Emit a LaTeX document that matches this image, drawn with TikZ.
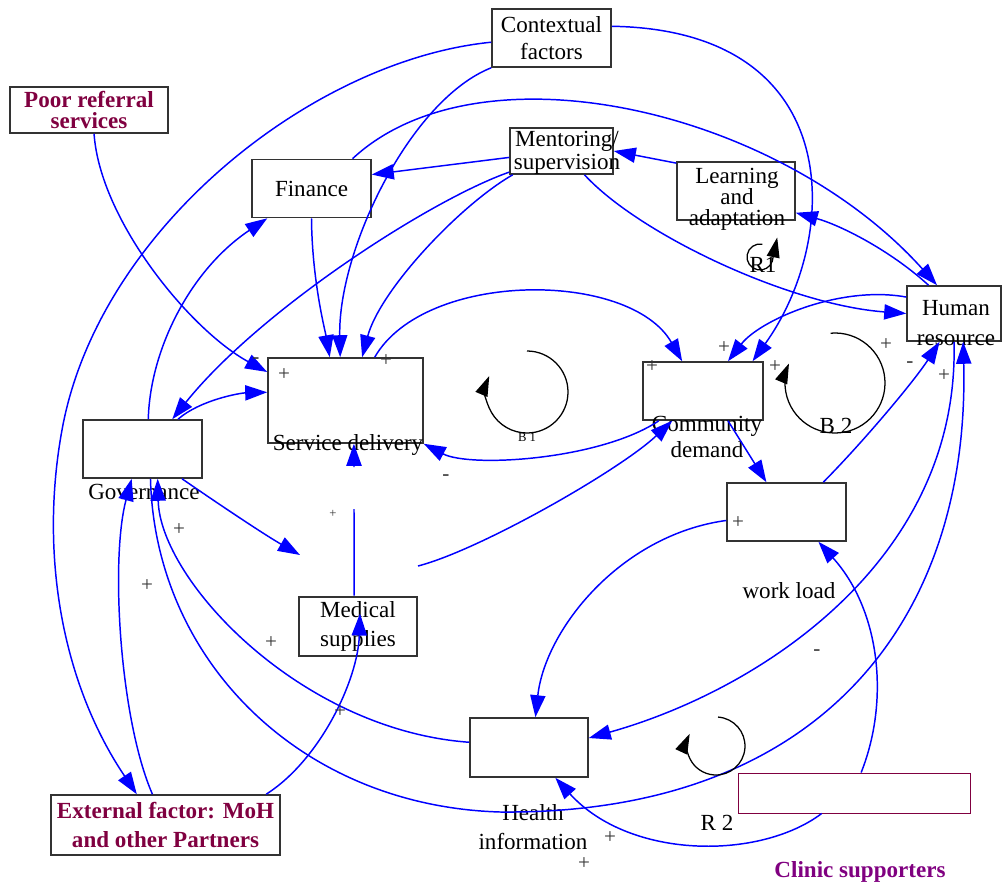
\documentclass[tikz,border=0pt]{standalone}
\usepackage{fontspec}
\setmainfont{Liberation Serif}
\usetikzlibrary{arrows.meta,positioning,calc}
\definecolor{cldblue}{RGB}{0,0,255}
\definecolor{cldmaroon}{RGB}{128,0,64}
\definecolor{cldpurple}{RGB}{128,0,128}
\definecolor{cldgray}{RGB}{51,51,51}

\begin{document}
\begin{tikzpicture}[
    x=0.025cm,y=-0.025cm,
    var/.style = {rectangle,draw=cldgray,line width=1.1pt,inner sep=0pt,
                  minimum width=2.975cm,minimum height=1.45cm,align=center,
                  font=\fontsize{16.4}{19.2}\selectfont},
    exo/.style = {var,font=\fontsize{16.4}{20.6}\selectfont\bfseries,text=cldmaroon},
    lbl/.style = {inner sep=0pt,align=center,font=\fontsize{16.4}{19.2}\selectfont},
    sgn/.style = {inner sep=0pt,font=\fontsize{15}{15}\selectfont,text=cldgray},
    fl/.style  = {-{Triangle[length=5.5mm,width=3.8mm]},cldblue,line width=1.05pt},
    lp/.style  = {-{Triangle[length=5mm,width=3.2mm]},black,line width=0.9pt},
  ]
  \useasboundingbox (0,0) rectangle (1002,888);

  % variables
  \node[var] (ctx) at (551.5,38) {Contextual\\factors};
  \node[exo,minimum width=3.95cm,minimum height=1.15cm,
        font=\fontsize{16.4}{15.6}\selectfont\bfseries] (poor) at (89,110) {Poor referral\\services};
  \node[var] (fin) at (311.5,188.5) {Finance};
  \node[var,minimum width=2.575cm,minimum height=1.15cm] (ment) at (561.5,151) {};
  \node[lbl,font=\fontsize{16.4}{16.3}\selectfont] (menttxt) at (567,153) {Mentoring/\\supervision};
  \node[var,minimum width=2.95cm] (learn) at (736,191) {};
  \node[lbl,font=\fontsize{16.4}{15}\selectfont] (learntxt) at (737,199) {Learning\\and\\adaptation};
  \node[var,minimum width=2.35cm,minimum height=1.375cm] (hr) at (954,313.5) {};
  \node[lbl,font=\fontsize{16.4}{21.3}\selectfont] (hrtxt) at (956,323) {Human\\resource};
  \node[var,minimum width=3cm] (comm) at (703,391) {};
  \node[lbl,font=\fontsize{16.4}{18.5}\selectfont] (commtxt) at (707,437) {Community\\demand};
  \node[var,minimum width=3.875cm,minimum height=2.125cm] (sd) at (345.5,400.5) {};
  \node[lbl] (sdtxt) at (348,445) {Service delivery};
  \node[var] (gov) at (142.5,449) {};
  \node[lbl] (govtxt) at (144,492) {Governance};
  \node[var] (wl) at (786.5,512) {};
  \node[lbl] (wltxt) at (789,591) {work load};
  \node[var,minimum width=2.95cm,minimum height=1.475cm,line width=1.8pt,
        font=\fontsize{16.4}{20.6}\selectfont] (med) at (358,626.5) {Medical\\supplies};
  \node[var,minimum width=2.95cm,minimum height=1.475cm] (hi) at (529,747.5) {};
  \node[lbl,font=\fontsize{16.4}{20.6}\selectfont] (hitxt) at (533,827.5) {Health\\information};
  \node[exo,minimum width=5.725cm,minimum height=1.5cm] (ext) at (165.5,825) {External factor: MoH\\and other Partners};
  \node[var,draw=cldmaroon,line width=0.7pt,minimum width=5.775cm,minimum height=1cm] (clin) at (854.5,793) {};
  \node[lbl,font=\fontsize{16.4}{19.2}\selectfont\bfseries,text=cldpurple] (clintxt) at (860,872) {Clinic supporters};

  \coordinate (medgap) at (354,509);
  \coordinate (medtip) at (354,467);
  \coordinate (govend) at (300,555);
  \coordinate (demstart) at (418,566);

  % links
  \draw[fl] (ctx.184) .. controls (312,60) and (98,230) .. (62,430)
            .. controls (40,550) and (60,680) .. (ext.133);
  \draw[fl] (ctx.south west) .. controls (410,100) and (338,250) .. (sd.97);
  \draw[fl] (ctx.11) .. controls (850,30) and (840,240) .. (comm.31);
  \draw[fl] (fin.36) .. controls (480,40) and (780,110) .. (hr.121);
  \draw[fl] (ment.187) -- (fin.13);
  \draw[fl] (ment.202) .. controls (430,200) and (260,310) .. (gov.45);
  \draw[fl] (ment.206) .. controls (460,205) and (380,290) .. (sd.69);
  \draw[fl] (ment.-46) .. controls (640,235) and (790,305) .. (hr.west);
  \draw[fl] (learn.155) -- (ment.east);
  \draw[fl] (hr.132) .. controls (890,250) and (840,225) .. (learn.-20);
  \draw[fl] (fin.south) .. controls (312,280) and (325,330) .. (sd.110);
  \draw[fl] (gov.79) .. controls (150,350) and (190,270) .. (fin.214);
  \draw[fl] (poor.-78) .. controls (100,220) and (190,330) .. (sd.160);
  \draw[fl] (gov.40) .. controls (200,400) and (240,393) .. (sd.174);
  \draw[fl] (sd.56) .. controls (425,270) and (630,270) .. (comm.125);
  \draw[fl] (comm.214) .. controls (600,460) and (470,468) .. (sd.south east);
  \draw[cldblue,line width=1.05pt] (med.97) -- (medgap);
  \draw[fl] (medtip) -- (sd.-79);
  \draw[fl] (gov.-37) .. controls (220,505) and (265,535) .. (govend);
  \draw[fl] (demstart) .. controls (480,550) and (620,470) .. (comm.224);
  \draw[fl] (comm.-50) -- (wl.124);
  \draw[fl] (wl.39) .. controls (865,440) and (915,380) .. (hr.243);
  \draw[fl] (hr.161) .. controls (840,285) and (760,320) .. (comm.50);
  \draw[fl] (wl.188) .. controls (620,535) and (545,630) .. (hi.78);
  \draw[fl] (hr.south) .. controls (960,560) and (760,690) .. (hi.9);
  \draw[fl] (hi.175) .. controls (300,730) and (160,580) .. (gov.-63);
  \draw[fl] (gov.-75) .. controls (155,660) and (300,806) .. (500,812)
            .. controls (820,815) and (970,620) .. (hr.-72);
  \draw[fl] (ext.113) .. controls (120,720) and (110,560) .. (gov.250);
  \draw[fl] (ext.17) .. controls (320,760) and (358,680) .. ([shift={(2,-13)}]med.center);
  \draw[fl] (clin.72) .. controls (890,700) and (880,610) .. (wl.-43);
  \draw[fl] (clin.212) .. controls (760,860) and (630,860) .. (hi.-49);

  % loops
  \coordinate (r1c) at (760,257);
  \coordinate (b1c) at (527,392);
  \coordinate (b2c) at (835,383);
  \coordinate (r2c) at (716,746);
  \draw[lp] (r1c) ++(-80:13) arc[start angle=-80,end angle=-340,radius=13] -- ++(5,-24);
  \draw[lp] (b1c) ++(-90:41) arc[start angle=-90,end angle=203,radius=41];
  \draw[lp] (b2c) ++(-95:50) arc[start angle=-95,end angle=203,radius=50];
  \draw[lp] (r2c) ++(-86:29) arc[start angle=-86,end angle=205,radius=29];
  \node[lbl] (r1) at (763,265) {R1};
  \node[lbl,font=\fontsize{9}{9}\selectfont] (b1) at (527,437) {B 1};
  \node[lbl] (b2) at (836,426) {B 2};
  \node[lbl] (r2) at (717,823) {R 2};

  % polarities
  \foreach \x/\y/\s [count=\i] in {256/361/-,284/375/+,386/361/+,652/367/+,724/348/+,
      775/367/+,886/345/+,910/365/-,944/376/+,446/478/-,179/530/+,147/586/+,
      271/643/+,340/712/+,738/523/+,817/653/-,610/838/+,584/864/+}
    \node[sgn] (sg\i) at (\x,\y) {\s};
  \node[sgn,font=\fontsize{9}{9}\selectfont] (sgsmall) at (333,514) {+};
\end{tikzpicture}
\end{document}
